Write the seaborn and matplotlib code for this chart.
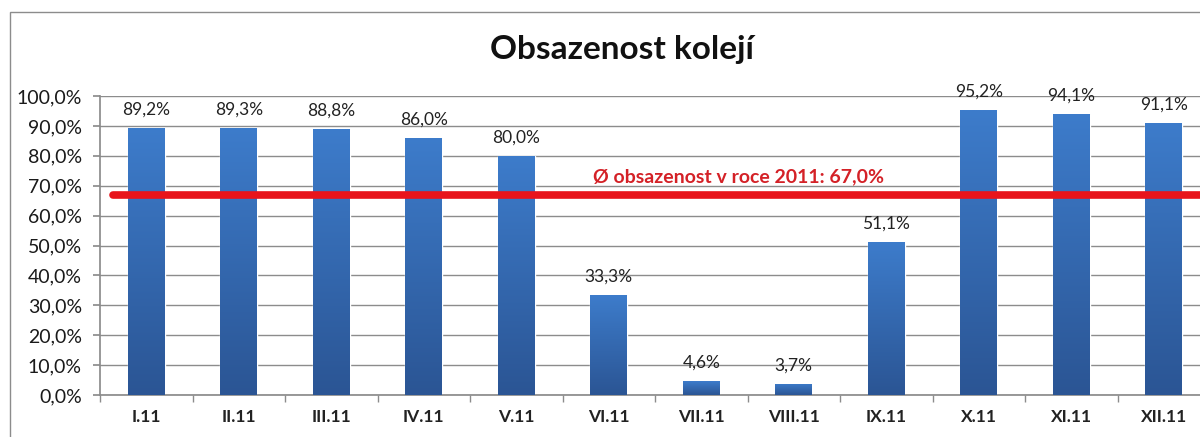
import numpy as np
import pandas as pd
import matplotlib
matplotlib.use("Agg")
import matplotlib.pyplot as plt
import seaborn as sns
from matplotlib.colors import LinearSegmentedColormap
from matplotlib.patches import Rectangle

# data
months = ["I.11", "II.11", "III.11", "IV.11", "V.11", "VI.11",
          "VII.11", "VIII.11", "IX.11", "X.11", "XI.11", "XII.11"]
occupancy = [89.2, 89.3, 88.8, 86.0, 80.0, 33.3, 4.6, 3.7, 51.1, 95.2, 94.1, 91.1]
average = 67.0
avg_label = "Ø obsazenost v roce 2011: 67,0%"
title = "Obsazenost kolejí"

df = pd.DataFrame({"month": months, "occ": occupancy})

sns.set_theme(style="white")
plt.rcParams['font.family'] = ['Lato', 'DejaVu Sans']

fig = plt.figure(figsize=(12, 4.37), dpi=100)
ax = fig.add_axes([100/1200, 1 - 395/437, 1110/1200, 299/437])

sns.barplot(data=df, x="month", y="occ", color="#3a76c4", width=0.4,
            saturation=1, ax=ax, zorder=2)

# gradient fill inside each bar
cmap = LinearSegmentedColormap.from_list("bl", ["#2b5594", "#3d7ccb"])
grad = np.linspace(0, 1, 256).reshape(-1, 1)
for p in ax.patches:
    x0, y0 = p.get_x(), p.get_y()
    w, h = p.get_width(), p.get_height()
    im = ax.imshow(grad, extent=[x0, x0 + w, y0, y0 + h], origin="lower",
                   cmap=cmap, aspect="auto", zorder=3)
    im.set_clip_path(p)
    ax.text(x0 + w/2, y0 + h + 3.5, f"{h:.1f}%".replace(".", ","),
            ha="center", va="bottom", fontsize=12.5, color="#222222", zorder=5)

ax.set_xlim(-0.5, 11.5)
ax.set_ylim(0, 100)
ax.set_yticks(np.arange(0, 101, 10))
ax.set_yticklabels([f"{v:.1f}%".replace(".", ",") for v in np.arange(0, 101, 10)],
                   fontsize=14, color="#1a1a1a")
ax.yaxis.grid(True, color="#8c8c8c", linewidth=1, zorder=0)
ax.set_axisbelow(True)
ax.set_xlabel("")
ax.set_ylabel("")
ax.tick_params(axis="x", labelsize=12.5, colors="#222222", pad=10, length=0)
ax.set_xticks(np.arange(-0.5, 12, 1), minor=True)
ax.tick_params(axis="x", which="minor", length=5, color="#8c8c8c", direction="out", bottom=True)
ax.tick_params(axis="y", length=5, color="#8c8c8c", direction="out", left=True, pad=8)
for lab in ax.get_xticklabels():
    lab.set_fontweight("bold")

for s in ["top", "right"]:
    ax.spines[s].set_visible(False)
ax.spines["left"].set_color("#8c8c8c")
ax.spines["bottom"].set_color("#8c8c8c")

# average line
ax.axhline(average, xmin=0.012, xmax=1, color="#e8141b", linewidth=5.5, zorder=6)
ax.text(6.4, average + 6, avg_label, ha="center", va="center", color="#d42127",
        fontsize=14, fontweight="bold", zorder=6)

fig.text(622/1200, 1 - 50/437, title, ha="center", va="center",
         fontsize=24, fontweight="bold", color="#111111")

# chart border
fig.patches.append(Rectangle((10/1200, -0.1), 1.2, 1 - 12/437 + 0.1,
                             transform=fig.transFigure, fill=False,
                             edgecolor="#8c8c8c", linewidth=1))

fig.savefig("out.png", dpi=100)
